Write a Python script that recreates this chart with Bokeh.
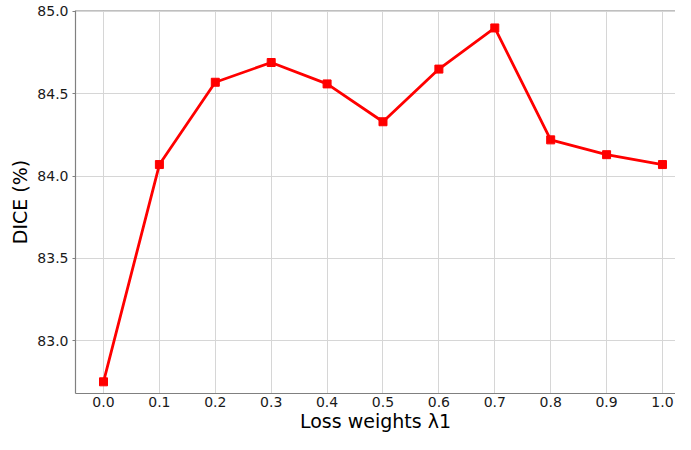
from bokeh.plotting import figure
from bokeh.models import Range1d, FixedTicker, Span
from bokeh.embed import file_html
from bokeh.resources import INLINE

weights = [0.0, 0.1, 0.2, 0.3, 0.4, 0.5, 0.6, 0.7, 0.8, 0.9, 1.0]
dice = [82.75, 84.07, 84.57, 84.69, 84.56, 84.33, 84.65, 84.90, 84.22, 84.13, 84.07]
x_ticks = [0.0, 0.1, 0.2, 0.3, 0.4, 0.5, 0.6, 0.7, 0.8, 0.9, 1.0]
y_ticks = [83.0, 83.5, 84.0, 84.5, 85.0]

p = figure(width=675, height=434, output_backend="svg", toolbar_location=None,
           x_range=Range1d(-0.0501, 1.0233), y_range=Range1d(82.679, 85.006),
           min_border_left=75, min_border_right=0, min_border_top=10, min_border_bottom=40)
p.outline_line_color = None
p.background_fill_color = "white"
p.border_fill_color = "white"

p.line(weights, dice, line_color="#ff0000", line_width=2.8)
p.scatter(weights, dice, marker="square", size=8, fill_color="#ff0000", line_color="#ff0000")

p.xaxis.ticker = FixedTicker(ticks=x_ticks)
p.yaxis.ticker = FixedTicker(ticks=y_ticks)
p.xaxis.major_label_overrides = {t: f"{t:.1f}" for t in x_ticks}
p.yaxis.major_label_overrides = {t: f"{t:.1f}" for t in y_ticks}

for ax in (p.xaxis, p.yaxis):
    ax.axis_line_color = "#808080"
    ax.axis_line_width = 1.2
    ax.major_tick_line_color = "#808080"
    ax.minor_tick_line_color = None
    ax.major_label_text_font = "DejaVu Sans"
    ax.major_label_text_font_size = "14px"
    ax.major_label_text_color = "#1a1a1a"
    ax.axis_label_text_font = "DejaVu Sans"
    ax.axis_label_text_font_size = "19px"
    ax.axis_label_text_font_style = "normal"
    ax.axis_label_text_color = "#000000"

p.xaxis.major_tick_out = 0
p.xaxis.major_tick_in = 0
p.yaxis.major_tick_out = 3
p.yaxis.major_tick_in = 0
p.xaxis.major_label_standoff = 3
p.yaxis.major_label_standoff = 4
p.xaxis.axis_label = "Loss weights λ1"
p.yaxis.axis_label = "DICE (%)"
p.xaxis.axis_label_standoff = 0
p.yaxis.axis_label_standoff = 3

p.grid.grid_line_color = "#d6d6d6"
p.grid.grid_line_width = 1

top = Span(location=85.006, dimension="width", line_color="#808080", line_width=1.2)
p.add_layout(top)

open("out.html", "w").write(file_html(p, INLINE))
